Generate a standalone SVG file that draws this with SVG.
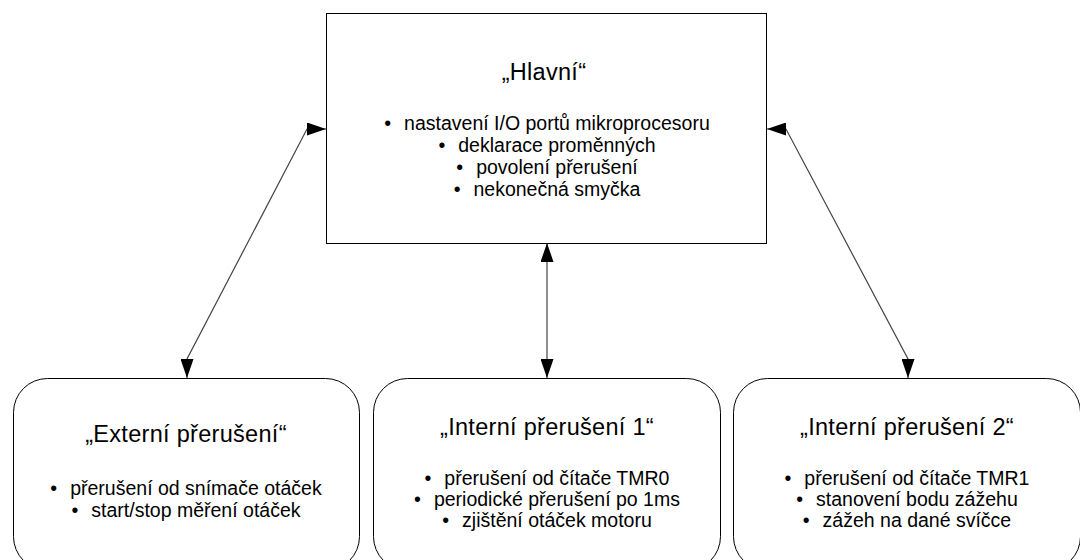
<svg xmlns="http://www.w3.org/2000/svg" width="1080" height="560" viewBox="0 0 1080 560">
<style>
.box{fill:#fff;stroke:#000;stroke-width:1}
.t{font-family:"Liberation Sans",Arial,sans-serif;fill:#000;text-anchor:middle}
.title{font-size:23.5px;letter-spacing:0.3px}
.b{font-size:19.5px}
.con{fill:none;stroke:#444;stroke-width:1.2}
</style>
<defs>
<marker id="ah" markerUnits="userSpaceOnUse" markerWidth="19" markerHeight="13" viewBox="0 0 19 13" refX="19" refY="6.5" orient="auto-start-reverse">
<path d="M0,0 L19,6.5 L0,13 z" fill="#000"/>
</marker>
</defs>
<rect width="1080" height="560" fill="#fff"/>
<g id="connectors">
<path class="con" d="M326,129 L307,129 L187,359 L187,378" marker-start="url(#ah)" marker-end="url(#ah)"/>
<path class="con" d="M547,243 L547,378" marker-start="url(#ah)" marker-end="url(#ah)"/>
<path class="con" d="M767,129 L786,129 L908,359 L908,378" marker-start="url(#ah)" marker-end="url(#ah)"/>
</g>
<g id="hlavni">
<rect class="box" x="326.5" y="13.5" width="440" height="230"/>
<text class="t title" x="544" y="80">„Hlavní“</text>
<text class="t b" x="547" y="130">•<tspan dx="13">nastavení I/O portů mikroprocesoru</tspan></text>
<text class="t b" x="547" y="152">•<tspan dx="13">deklarace proměnných</tspan></text>
<text class="t b" x="547" y="174">•<tspan dx="13">povolení přerušení</tspan></text>
<text class="t b" x="547" y="196">•<tspan dx="13">nekonečná smyčka</tspan></text>
</g>
<g id="externi">
<rect class="box" x="13.5" y="378.5" width="346" height="192" rx="34" ry="34"/>
<text class="t title" x="186" y="442">„Externí přerušení“</text>
<text class="t b" x="186" y="495">•<tspan dx="13">přerušení od snímače otáček</tspan></text>
<text class="t b" x="186" y="517">•<tspan dx="13">start/stop měření otáček</tspan></text>
</g>
<g id="interni1">
<rect class="box" x="373.5" y="378.5" width="347" height="192" rx="34" ry="34"/>
<text class="t title" x="547" y="435">„Interní přerušení 1“</text>
<text class="t b" x="547" y="485">•<tspan dx="13">přerušení od čítače TMR0</tspan></text>
<text class="t b" x="547" y="506">•<tspan dx="13">periodické přerušení po 1ms</tspan></text>
<text class="t b" x="547" y="527">•<tspan dx="13">zjištění otáček motoru</tspan></text>
</g>
<g id="interni2">
<rect class="box" x="733.5" y="378.5" width="347" height="192" rx="34" ry="34"/>
<text class="t title" x="907" y="435">„Interní přerušení 2“</text>
<text class="t b" x="907" y="485">•<tspan dx="13">přerušení od čítače TMR1</tspan></text>
<text class="t b" x="907" y="506">•<tspan dx="13">stanovení bodu zážehu</tspan></text>
<text class="t b" x="907" y="527">•<tspan dx="13">zážeh na dané svíčce</tspan></text>
</g>
</svg>
